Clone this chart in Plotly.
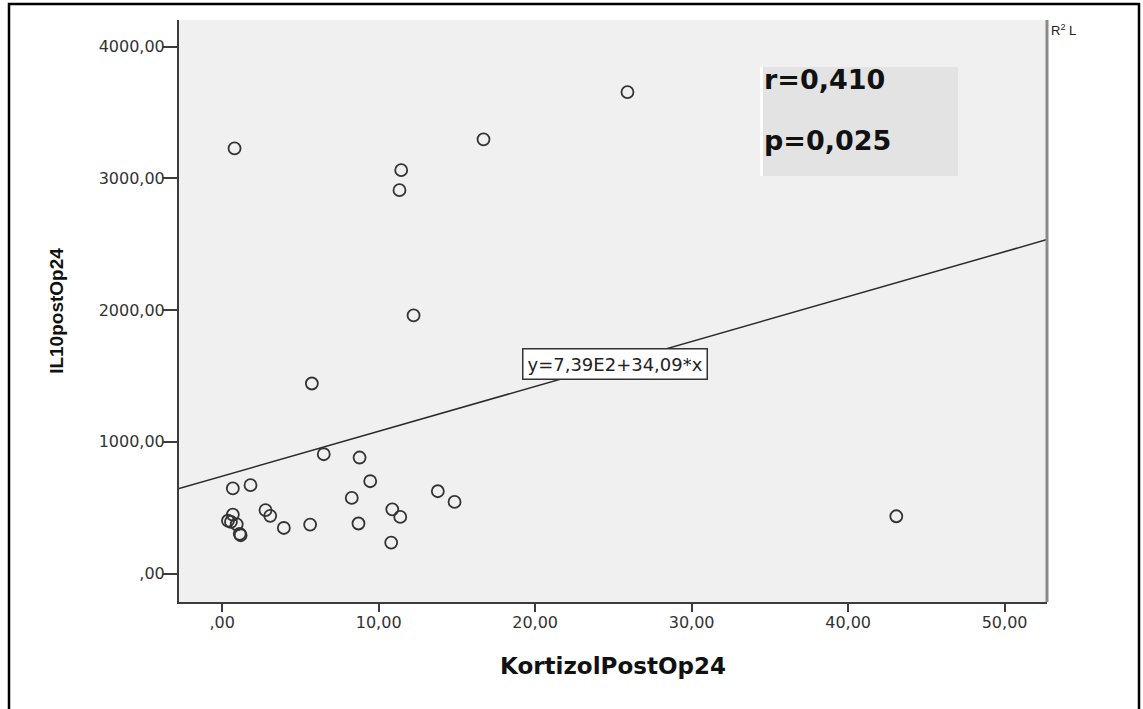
import plotly.graph_objects as go

# ---- data ----
kortizol = [0.79, 25.9, 16.70, 11.44, 11.33, 12.23, 5.73, 43.08,
            0.68, 1.81, 6.49, 8.78, 9.46, 8.28, 13.78, 14.85, 10.87, 11.38,
            8.71, 10.80, 5.62, 3.94, 2.77, 3.07, 0.68, 0.37, 0.56, 0.93, 1.12, 1.18]
il10 = [3228, 3656, 3297, 3063, 2911, 1960, 1443, 435,
        646, 671, 906, 881, 701, 574, 625, 544, 488, 430,
        380, 235, 372, 346, 481, 438, 448, 401, 393, 374, 302, 291]

fit_intercept = 739.0
fit_slope = 34.09
fit_label = "y=7,39E2+34,09*x"
fit_label_x = 25.1

x_range = [-2.76, 52.71]
y_range = [-216, 4203]

x_tickvals = [0, 10, 20, 30, 40, 50]
x_ticktext = [",00", "10,00", "20,00", "30,00", "40,00", "50,00"]
y_tickvals = [0, 1000, 2000, 3000, 4000]
y_ticktext = [",00", "1000,00", "2000,00", "3000,00", "4000,00"]

stat_r = "r=0,410"
stat_p = "p=0,025"

# ---- figure (body margin removed via post_script) ----
W, H = 1143, 709
ML, MT = 179, 20
MR = W - 1047
MB = H - 602
PW, PH = W - ML - MR, H - MT - MB


def px(xp):
    return (xp - ML) / PW


def py(yp):
    return (H - MB - yp) / PH


fig = go.Figure()

fit_x = x_range
fit_y = [fit_intercept + fit_slope * v for v in fit_x]
fig.add_trace(go.Scatter(x=fit_x, y=fit_y, mode="lines",
                         line=dict(color="#2a2a2a", width=1.5),
                         hoverinfo="skip", showlegend=False))

fig.add_trace(go.Scatter(x=kortizol, y=il10, mode="markers",
                         marker=dict(symbol="circle-open", size=12, color="#333333",
                                     line=dict(width=1.8)),
                         showlegend=False))

fig.update_layout(
    width=W, height=H,
    margin=dict(l=ML, r=MR, t=MT, b=MB),
    paper_bgcolor="white",
    plot_bgcolor="#f0f0f0",
    font=dict(family="DejaVu Sans", color="#333333"),
    xaxis=dict(range=x_range, tickvals=x_tickvals, ticktext=x_ticktext,
               showgrid=False, zeroline=False, showline=True, linecolor="#3c3c3c",
               linewidth=2, ticks="outside", ticklen=8, tickwidth=1.5,
               tickcolor="#3c3c3c", tickfont=dict(size=16, color="#333"),
               ticklabelstandoff=-3,
               title=dict(text="<b>KortizolPostOp24</b>",
                          font=dict(family="DejaVu Sans", size=23, color="#111"),
                          standoff=27)),
    yaxis=dict(range=y_range, tickvals=y_tickvals, ticktext=y_ticktext,
               showgrid=False, zeroline=False, showline=True, linecolor="#3c3c3c",
               linewidth=2, ticks="outside", ticklen=14, tickwidth=1.5,
               tickcolor="#3c3c3c", tickfont=dict(size=16, color="#333"),
               ticklabelstandoff=-5,
               title=dict(text="<b>IL10postOp24</b>",
                          font=dict(family="Liberation Sans", size=19, color="#111"),
                          standoff=30)),
)

shapes = [
    # right border of the plot
    dict(type="line", xref="paper", yref="paper", x0=1, x1=1, y0=0, y1=1,
         line=dict(color="#8a8a8a", width=3)),
    # statistics box
    dict(type="rect", xref="paper", yref="paper", x0=px(760), x1=px(958),
         y0=py(176), y1=py(67), fillcolor="#e3e3e3", line=dict(width=0), layer="below"),
    dict(type="rect", xref="paper", yref="paper", x0=px(760), x1=px(763),
         y0=py(176), y1=py(67), fillcolor="#ffffff", line=dict(width=0), layer="below"),
    # outer frame
    dict(type="rect", xref="paper", yref="paper", x0=px(9), x1=px(1139),
         y0=py(730), y1=py(4), fillcolor="rgba(0,0,0,0)",
         line=dict(color="black", width=2.5)),
]
fig.update_layout(shapes=shapes)

annotations = [
    dict(x=fit_label_x, y=fit_intercept + fit_slope * fit_label_x, xref="x", yref="y",
         text=fit_label, showarrow=False, bgcolor="white", bordercolor="#333",
         borderwidth=1.5, borderpad=4, font=dict(family="DejaVu Sans", size=18, color="#222")),
    dict(x=px(762), y=py(80), xref="paper", yref="paper", xanchor="left", yanchor="middle",
         text="<b>" + stat_r + "</b>", showarrow=False,
         font=dict(family="DejaVu Sans", size=27, color="#111")),
    dict(x=px(762), y=py(140), xref="paper", yref="paper", xanchor="left", yanchor="middle",
         text="<b>" + stat_p + "</b>", showarrow=False,
         font=dict(family="DejaVu Sans", size=27, color="#111")),
    dict(x=px(1049), y=py(30), xref="paper", yref="paper", xanchor="left", yanchor="middle",
         text="R<sup>2</sup> L", showarrow=False,
         font=dict(family="Liberation Sans", size=13, color="#222")),
]
fig.update_layout(annotations=annotations)

fig.write_html("out.html",
               config={"displayModeBar": False},
               post_script="document.body.style.margin='0';document.body.style.overflow='hidden';")
